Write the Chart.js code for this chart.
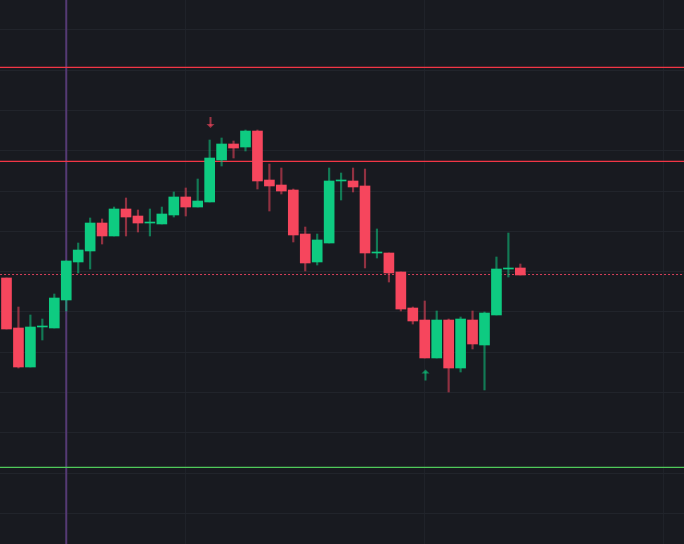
<!DOCTYPE html>
<html>
<head>
<meta charset="utf-8">
<script src="https://cdn.jsdelivr.net/npm/chart.js@4.4.1/dist/chart.umd.min.js"></script>
<style>
    html, body { margin: 0; padding: 0; background: #181a20; }
    .chart-box { width: 684px; height: 544px; }
</style>
</head>
<body>
<div class="chart-box"><canvas id="priceChart"></canvas></div>
<script>
// Candles (open / high / low / close)
const opens  = [98.44, 86.03, 76.35, 86.28, 86.03, 92.98, 102.41, 105.14, 112.08, 108.86,
                115.56, 113.82, 112.08, 111.84, 114.07, 118.54, 116.05, 117.30, 127.72, 131.69,
                130.94, 134.91, 122.75, 121.51, 120.27, 109.35, 102.41, 107.12, 122.51, 122.51,
                121.27, 104.64, 104.64, 99.93, 90.99, 88.01, 78.59, 88.01, 76.10, 88.01,
                81.81, 89.26, 100.67, 100.92];
const highs  = [98.44, 91.24, 89.26, 88.26, 94.47, 102.66, 107.12, 113.33, 113.08, 116.05,
                118.29, 115.31, 115.56, 116.05, 119.78, 120.77, 123.00, 132.68, 133.18, 132.43,
                135.16, 135.16, 126.72, 125.73, 120.52, 111.09, 109.35, 125.73, 124.49, 125.73,
                125.48, 110.60, 104.64, 99.93, 91.24, 92.73, 90.25, 88.26, 88.76, 90.25,
                90.00, 103.65, 109.60, 101.91];
const lows   = [85.78, 76.10, 76.35, 83.05, 86.03, 90.25, 99.68, 100.67, 106.87, 108.86,
                108.86, 109.85, 108.86, 111.84, 113.57, 113.82, 116.05, 117.30, 126.23, 128.21,
                129.95, 120.52, 115.06, 119.28, 107.37, 100.17, 101.66, 107.12, 117.79, 119.78,
                100.92, 103.40, 97.44, 90.25, 87.02, 78.59, 78.59, 70.15, 75.11, 80.82,
                70.65, 89.26, 98.68, 99.18];
const closes = [85.78, 76.35, 86.28, 86.28, 93.47, 102.66, 105.38, 112.08, 108.86, 115.56,
                113.57, 112.08, 112.08, 114.32, 118.54, 116.05, 117.54, 128.21, 131.69, 130.69,
                134.91, 122.51, 121.27, 120.02, 109.11, 102.16, 107.87, 122.51, 122.51, 121.02,
                104.64, 104.64, 99.68, 90.74, 87.77, 78.59, 88.01, 76.10, 88.26, 82.06,
                89.75, 100.67, 100.67, 99.18];

// Horizontal levels and the marker bar
const upperLevel = 150.72;
const middleLevel = 127.39;
const lowerLevel = 51.46;
const lastPrice = 99.30;
const markedBar = 5;

// Signal arrows: bar index, tip price, direction
const signalBars = [17, 35];
const signalPrices = [135.66, 75.73];
const signalDirs = ['down', 'up'];

const UP = '#0ecb81';
const DOWN = '#f6465d';
const UP_WICK = 'rgba(14, 203, 129, 0.55)';
const DOWN_WICK = 'rgba(246, 70, 93, 0.55)';

const yMin = 32.43, yMax = 167.42;
const xMin = -0.544, xMax = 56.695;

const isUp = i => closes[i] >= opens[i];

const bodies = opens.map((o, i) => ({ x: i, y: [o, closes[i]] }));
const wicks = lows.map((l, i) => ({ x: i, y: [l, highs[i]] }));

const hLine = v => [{ x: xMin - 1, y: v }, { x: xMax + 1, y: v }];

// draws the little buy / sell arrows
const arrowPlugin = {
    id: 'arrows',
    afterDatasetsDraw(chart) {
        const ctx = chart.ctx;
        const xs = chart.scales.x, ys = chart.scales.y;
        signalBars.forEach((bar, k) => {
            const x = Math.round(xs.getPixelForValue(bar)) + 0.5;
            const tip = ys.getPixelForValue(signalPrices[k]);
            const down = signalDirs[k] === 'down';
            const dir = down ? -1 : 1;
            ctx.save();
            ctx.strokeStyle = down ? 'rgba(246, 70, 93, 0.6)' : 'rgba(14, 203, 129, 0.6)';
            ctx.fillStyle = ctx.strokeStyle;
            ctx.lineWidth = 2;
            ctx.beginPath();
            ctx.moveTo(x, tip + dir * 11);
            ctx.lineTo(x, tip + dir * 2);
            ctx.stroke();
            ctx.beginPath();
            ctx.moveTo(x - 4, tip + dir * 4);
            ctx.lineTo(x + 4, tip + dir * 4);
            ctx.lineTo(x, tip);
            ctx.closePath();
            ctx.fill();
            ctx.restore();
        });
    }
};

const ctx = document.getElementById('priceChart').getContext('2d');
const priceChart = new Chart(ctx, {
    type: 'bar',
    data: {
        datasets: [
            {
                label: 'wicks',
                data: wicks,
                backgroundColor: wicks.map((w, i) => isUp(i) ? UP_WICK : DOWN_WICK),
                barThickness: 1.5,
                grouped: false,
                order: 1
            },
            {
                label: 'bodies',
                data: bodies,
                backgroundColor: bodies.map((b, i) => isUp(i) ? UP : DOWN),
                barThickness: 10,
                minBarLength: 1,
                grouped: false,
                order: 0
            },
            {
                type: 'line',
                label: 'upper',
                data: hLine(upperLevel),
                borderColor: '#f23645',
                borderWidth: 1.2,
                pointRadius: 0,
                order: 2
            },
            {
                type: 'line',
                label: 'middle',
                data: hLine(middleLevel),
                borderColor: '#f23645',
                borderWidth: 1.2,
                pointRadius: 0,
                order: 2
            },
            {
                type: 'line',
                label: 'lower',
                data: hLine(lowerLevel),
                borderColor: '#4fc95a',
                borderWidth: 1.2,
                pointRadius: 0,
                order: 2
            },
            {
                type: 'line',
                label: 'last',
                data: hLine(lastPrice),
                borderColor: '#d8405a',
                borderWidth: 1,
                borderDash: [2, 2],
                pointRadius: 0,
                order: 2
            },
            {
                type: 'line',
                label: 'marker',
                data: [{ x: markedBar, y: yMin - 5 }, { x: markedBar, y: yMax + 5 }],
                borderColor: '#553a74',
                borderWidth: 2,
                pointRadius: 0,
                order: 2
            }
        ]
    },
    options: {
        responsive: true,
        maintainAspectRatio: false,
        animation: false,
        layout: { padding: 0 },
        plugins: {
            legend: { display: false },
            tooltip: { enabled: false }
        },
        scales: {
            x: {
                type: 'linear',
                min: xMin,
                max: xMax,
                offset: false,
                afterBuildTicks: axis => {
                    axis.ticks = [15, 35, 55].map(v => ({ value: v }));
                },
                ticks: { display: false },
                grid: { color: '#1f2229', drawTicks: false, offset: false },
                border: { display: false }
            },
            y: {
                min: yMin,
                max: yMax,
                ticks: { display: false, stepSize: 10, includeBounds: false },
                grid: { color: '#21242b', drawTicks: false },
                border: { display: false }
            }
        }
    },
    plugins: [arrowPlugin]
});
</script>
</body>
</html>
